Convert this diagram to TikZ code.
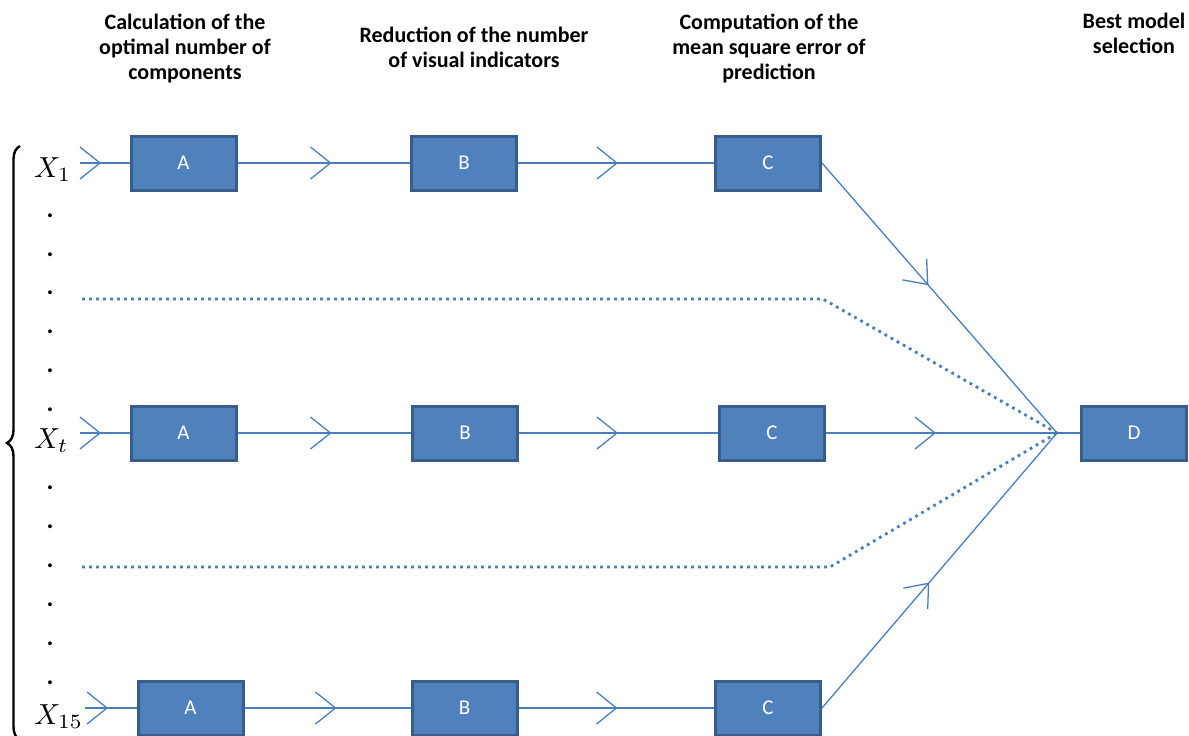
\documentclass[tikz,border=0pt]{standalone}
\usepackage{graphicx}
\usepackage{fontspec}
\newfontfamily\calibri{Carlito}
\usetikzlibrary{decorations.markings,decorations.pathreplacing}
\definecolor{boxfill}{HTML}{4F81BD}
\definecolor{boxline}{HTML}{385D8A}
\definecolor{linkc}{HTML}{4A7EBB}
\tikzset{
  box/.style={draw=boxline, fill=boxfill, line width=3pt, minimum width=105pt, minimum height=54pt, inner sep=0pt, text=white, font=\calibri\fontsize{21}{21}\selectfont},
  link/.style={draw=linkc, line width=1.3pt},
  chev/.style={postaction={decorate, decoration={markings, mark=at position #1 with {\draw[linkc, line width=1.3pt] (-20pt,16pt) -- (0pt,0pt) -- (-20pt,-16pt);}}}},
  dotline/.style={draw=linkc, line width=2.8pt, dash pattern=on 2.8pt off 4.2pt},
  head/.style={anchor=base, inner sep=0pt, font=\calibri\bfseries\fontsize{22}{25.5}\selectfont},
  xlab/.style={anchor=base west, inner sep=0pt},
  vdot/.style={anchor=base, inner sep=0pt, font=\calibri\bfseries\fontsize{26}{26}\selectfont},
}
\begin{document}
\begin{tikzpicture}[x=1pt,y=-1pt]
\useasboundingbox (0,0) rectangle (1189,736);
\clip (0,0) rectangle (1189,736);
% headers
\node[head] (h1) at (185,29) {\begin{tabular}[t]{@{}c@{}}Calculation of the\\optimal number of\\components\end{tabular}};
\node[head] (h2) at (474,42) {\begin{tabular}[t]{@{}c@{}}Reduction of the number\\of visual indicators\end{tabular}};
\node[head] (h3) at (769,29) {\begin{tabular}[t]{@{}c@{}}Computation of the\\mean square error of\\prediction\end{tabular}};
\node[head] (h4) at (1134,28) {\begin{tabular}[t]{@{}c@{}}Best model\\selection\end{tabular}};
% boxes
\node[box] (A1) at (183.5,163) {A};
\node[box] (B1) at (464,163) {B};
\node[box] (C1) at (768,163) {C};
\node[box] (At) at (183.5,433) {A};
\node[box] (Bt) at (465,433) {B};
\node[box] (Ct) at (772,433) {C};
\node[box] (D) at (1134,433) {D};
\node[box] (A15) at (190.5,708) {A};
\node[box] (B15) at (464.5,708) {B};
\node[box] (C15) at (768,708) {C};
% coordinates
\coordinate (in1) at (80,163);
\coordinate (int) at (80,433);
\coordinate (in15) at (85,708);
\coordinate (J) at (1057,433);
\coordinate (d1s) at (82,299);
\coordinate (d1b) at (823,299);
\coordinate (d2s) at (82,567);
\coordinate (d2b) at (830,567);
% connectors
\draw[link,chev=20pt] (in1) -- (A1);
\draw[link,chev=93pt] (A1) -- (B1);
\draw[link,chev=99pt] (B1) -- (C1);
\draw[link,chev=20pt] (int) -- (At);
\draw[link,chev=93pt] (At) -- (Bt);
\draw[link,chev=98pt] (Bt) -- (Ct);
\draw[link,chev=109pt] (Ct) -- (D);
\draw[link,chev=22pt] (in15) -- (A15);
\draw[link,chev=91pt] (A15) -- (B15);
\draw[link,chev=98pt] (B15) -- (C15);
\draw[link,chev=161pt] (C1.east) -- (J);
\draw[link,chev=164pt] (C15.east) -- (J);
\draw[dotline] (d1s) -- (d1b) -- (J);
\draw[dotline] (d2s) -- (d2b) -- (J);
% left labels
\node[xlab] (x1) at (34,177) {\scalebox{2.9}{$X_1$}};
\node[xlab] (xt) at (34,448) {\scalebox{2.9}{$X_t$}};
\node[xlab] (x15) at (34,724) {\scalebox{2.9}{$X_{15}$}};
\foreach \y [count=\i] in {215,254,292,331,370,409,487,526,565,604,643,682}
  \node[vdot] (v\i) at (50,\y+2) {.};
\draw[line width=2.4pt, decorate, decoration={brace, amplitude=13pt}] (20,740) -- (20,146);
\end{tikzpicture}
\end{document}
